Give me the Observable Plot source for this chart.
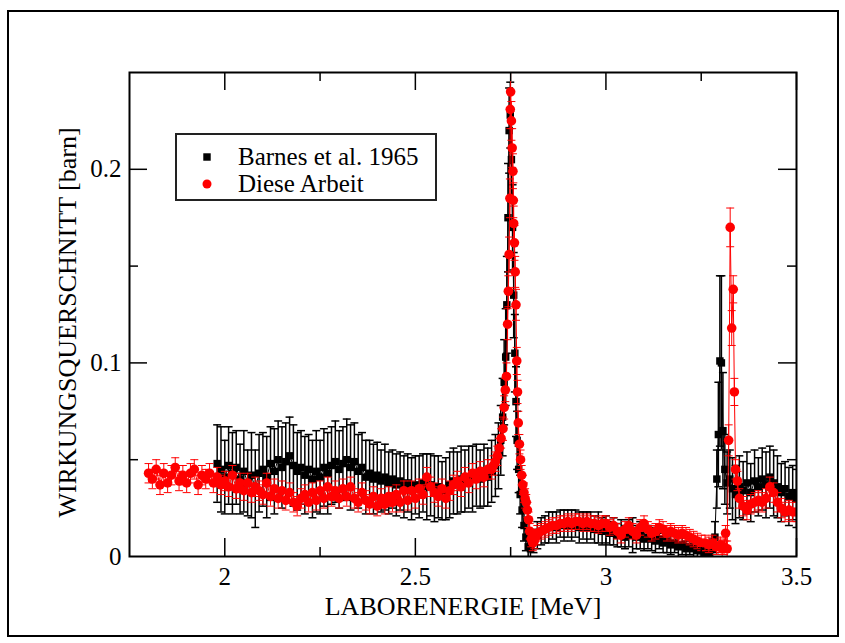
<!DOCTYPE html>
<html><head><meta charset="utf-8">
<script src="https://cdn.jsdelivr.net/npm/d3@7"></script>
<script src="https://cdn.jsdelivr.net/npm/@observablehq/plot@0.6"></script>
<style>
html,body{margin:0;padding:0;background:#fff;}
#wrap{position:relative;width:845px;height:643px;overflow:hidden;background:#fff;}
#border{position:absolute;left:7px;top:10px;width:832px;height:627px;border:2px solid #000;box-sizing:border-box;pointer-events:none;}
#legend{position:absolute;left:175px;top:133px;}
</style></head>
<body>
<div id="wrap"><div id="chart"></div><div id="border"></div><div id="legend"></div></div>
<script>
// ---- data: [energy MeV, cross section barn, error] ----
const barnes = [
[1.980,0.048,0.020],[1.990,0.045,0.022],[2.000,0.041,0.019],[2.010,0.047,0.020],[2.020,0.043,0.021],
[2.030,0.046,0.019],[2.040,0.040,0.018],[2.050,0.044,0.021],[2.060,0.038,0.017],[2.070,0.042,0.022],
[2.080,0.035,0.020],[2.090,0.043,0.020],[2.100,0.045,0.019],[2.110,0.041,0.021],[2.120,0.048,0.019],
[2.130,0.044,0.022],[2.140,0.050,0.020],[2.150,0.046,0.021],[2.160,0.049,0.020],[2.170,0.052,0.020],
[2.180,0.047,0.021],[2.190,0.044,0.020],[2.200,0.046,0.019],[2.210,0.042,0.020],[2.220,0.045,0.018],
[2.230,0.040,0.020],[2.240,0.044,0.021],[2.250,0.041,0.019],[2.260,0.046,0.020],[2.270,0.043,0.021],
[2.280,0.047,0.020],[2.290,0.049,0.021],[2.300,0.045,0.020],[2.310,0.048,0.019],[2.320,0.050,0.021],
[2.330,0.046,0.022],[2.340,0.049,0.020],[2.350,0.044,0.019],[2.360,0.046,0.018],[2.370,0.041,0.019],
[2.380,0.043,0.017],[2.390,0.040,0.018],[2.400,0.042,0.017],[2.410,0.039,0.016],[2.420,0.041,0.017],
[2.430,0.038,0.016],[2.440,0.040,0.015],[2.450,0.037,0.016],[2.460,0.039,0.015],[2.470,0.036,0.016],
[2.480,0.038,0.015],[2.490,0.035,0.016],[2.500,0.037,0.015],[2.510,0.036,0.016],[2.520,0.038,0.015],
[2.530,0.036,0.017],[2.540,0.037,0.016],[2.550,0.035,0.017],[2.560,0.036,0.016],[2.570,0.034,0.015],
[2.580,0.035,0.016],[2.590,0.037,0.017],[2.600,0.039,0.017],[2.610,0.038,0.016],[2.620,0.040,0.017],
[2.630,0.039,0.016],[2.640,0.041,0.016],[2.650,0.040,0.017],[2.660,0.042,0.016],[2.670,0.040,0.015],
[2.680,0.042,0.016],[2.690,0.041,0.015],[2.700,0.044,0.016],[2.710,0.047,0.016],[2.718,0.052,0.017],
[2.724,0.060,0.018],[2.729,0.072,0.020],[2.733,0.090,0.022],[2.737,0.103,0.025],[2.740,0.130,0.025],
[2.743,0.175,0.028],[2.746,0.220,0.022],[2.749,0.228,0.017],[2.752,0.205,0.020],[2.755,0.170,0.022],
[2.758,0.135,0.022],[2.761,0.105,0.020],[2.764,0.080,0.018],[2.767,0.060,0.015],[2.771,0.045,0.012],
[2.775,0.032,0.010],[2.780,0.024,0.009],[2.785,0.016,0.008],[2.790,0.010,0.007],[2.796,0.005,0.006],
[2.802,0.004,0.006],[2.810,0.008,0.006],[2.820,0.011,0.007],[2.830,0.013,0.007],[2.840,0.014,0.007],
[2.850,0.015,0.008],[2.860,0.016,0.007],[2.870,0.015,0.008],[2.880,0.017,0.007],[2.890,0.016,0.008],
[2.900,0.017,0.007],[2.910,0.016,0.008],[2.920,0.017,0.007],[2.930,0.015,0.008],[2.940,0.016,0.007],
[2.950,0.015,0.008],[2.960,0.016,0.007],[2.970,0.014,0.007],[2.980,0.015,0.008],[2.990,0.013,0.007],
[3.000,0.014,0.007],[3.010,0.012,0.006],[3.020,0.013,0.007],[3.030,0.011,0.006],[3.040,0.012,0.007],
[3.050,0.010,0.006],[3.060,0.012,0.007],[3.070,0.011,0.009],[3.080,0.010,0.006],[3.090,0.011,0.007],
[3.100,0.009,0.006],[3.110,0.010,0.006],[3.120,0.009,0.006],[3.130,0.008,0.006],[3.140,0.009,0.005],
[3.150,0.007,0.005],[3.160,0.008,0.006],[3.170,0.006,0.005],[3.180,0.007,0.005],[3.190,0.005,0.005],
[3.200,0.006,0.005],[3.210,0.004,0.004],[3.220,0.005,0.004],[3.230,0.004,0.004],[3.240,0.003,0.004],
[3.250,0.003,0.004],[3.260,0.002,0.004],[3.270,0.002,0.004],[3.280,0.004,0.005],[3.286,0.010,0.008],
[3.291,0.040,0.015],[3.295,0.063,0.027],[3.299,0.101,0.044],[3.303,0.100,0.045],[3.307,0.065,0.030],
[3.312,0.045,0.018],[3.318,0.038,0.016],[3.325,0.040,0.015],[3.332,0.035,0.016],[3.340,0.032,0.015],
[3.350,0.036,0.016],[3.360,0.034,0.015],[3.370,0.038,0.016],[3.380,0.033,0.015],[3.390,0.039,0.016],
[3.400,0.036,0.015],[3.410,0.040,0.016],[3.420,0.037,0.017],[3.430,0.041,0.016],[3.440,0.038,0.017],
[3.450,0.036,0.016],[3.460,0.033,0.015],[3.470,0.035,0.014],[3.480,0.031,0.015],[3.490,0.033,0.014],
[3.500,0.030,0.015]
];
const dieseArbeit = [
[1.80,0.043,0.005],[1.81,0.040,0.005],[1.82,0.045,0.005],[1.83,0.037,0.005],[1.84,0.043,0.005],
[1.85,0.038,0.005],[1.86,0.042,0.005],[1.87,0.046,0.005],[1.88,0.039,0.005],[1.89,0.042,0.005],
[1.90,0.038,0.005],[1.91,0.043,0.005],[1.92,0.045,0.005],[1.93,0.037,0.005],[1.94,0.042,0.005],
[1.95,0.040,0.005],[1.96,0.043,0.005],[1.97,0.038,0.005],[1.98,0.041,0.005],[1.99,0.037,0.005],
[2.00,0.039,0.005],[2.01,0.036,0.005],[2.02,0.042,0.005],[2.03,0.035,0.005],[2.04,0.038,0.005],
[2.05,0.034,0.005],[2.06,0.038,0.005],[2.07,0.033,0.005],[2.08,0.036,0.005],[2.09,0.034,0.005],
[2.10,0.032,0.005],[2.11,0.038,0.005],[2.12,0.031,0.005],[2.13,0.035,0.005],[2.14,0.030,0.005],
[2.15,0.034,0.005],[2.16,0.029,0.005],[2.17,0.033,0.005],[2.18,0.028,0.005],[2.19,0.026,0.005],
[2.20,0.030,0.005],[2.21,0.032,0.005],[2.22,0.028,0.005],[2.23,0.033,0.005],[2.24,0.029,0.005],
[2.25,0.034,0.005],[2.26,0.030,0.005],[2.27,0.036,0.005],[2.28,0.031,0.005],[2.29,0.034,0.005],
[2.30,0.030,0.005],[2.31,0.035,0.005],[2.32,0.031,0.005],[2.33,0.036,0.005],[2.34,0.030,0.005],
[2.35,0.028,0.005],[2.36,0.033,0.005],[2.37,0.029,0.005],[2.38,0.027,0.005],[2.39,0.031,0.005],
[2.40,0.026,0.005],[2.41,0.030,0.005],[2.42,0.027,0.005],[2.43,0.031,0.005],[2.44,0.028,0.005],
[2.45,0.032,0.005],[2.46,0.028,0.005],[2.47,0.034,0.005],[2.48,0.029,0.005],[2.49,0.034,0.005],
[2.50,0.030,0.005],[2.51,0.035,0.005],[2.52,0.032,0.005],[2.53,0.041,0.005],[2.54,0.036,0.005],
[2.55,0.033,0.005],[2.56,0.031,0.005],[2.57,0.035,0.005],[2.58,0.030,0.005],[2.59,0.034,0.005],
[2.60,0.037,0.005],[2.61,0.039,0.005],[2.62,0.036,0.005],[2.63,0.041,0.005],[2.64,0.038,0.005],
[2.65,0.043,0.005],[2.66,0.040,0.005],[2.67,0.044,0.005],[2.68,0.041,0.005],[2.69,0.045,0.005],
[2.700,0.045,0.005],[2.705,0.047,0.005],[2.710,0.049,0.005],[2.715,0.052,0.005],[2.720,0.056,0.005],
[2.725,0.061,0.005],[2.730,0.066,0.006],[2.733,0.077,0.006],[2.736,0.086,0.006],[2.739,0.093,0.007],
[2.742,0.120,0.008],[2.744,0.137,0.008],[2.746,0.156,0.009],[2.748,0.185,0.010],[2.749,0.231,0.010],
[2.750,0.240,0.010],[2.752,0.225,0.010],[2.754,0.211,0.010],[2.756,0.199,0.009],[2.757,0.184,0.009],
[2.758,0.172,0.009],[2.760,0.162,0.009],[2.762,0.147,0.008],[2.764,0.130,0.008],[2.766,0.101,0.007],
[2.768,0.085,0.006],[2.770,0.069,0.006],[2.773,0.058,0.005],[2.776,0.050,0.005],[2.779,0.042,0.005],
[2.782,0.037,0.005],[2.785,0.033,0.005],[2.788,0.030,0.005],[2.791,0.028,0.004],[2.794,0.024,0.004],
[2.797,0.019,0.004],[2.800,0.013,0.004],[2.804,0.009,0.004],[2.808,0.007,0.004],[2.812,0.008,0.004],
[2.816,0.010,0.004],[2.82,0.012,0.004],[2.83,0.013,0.004],[2.84,0.014,0.004],[2.85,0.015,0.004],
[2.86,0.016,0.004],[2.87,0.016,0.004],[2.88,0.017,0.004],[2.89,0.017,0.004],[2.90,0.018,0.004],
[2.91,0.017,0.004],[2.92,0.018,0.004],[2.93,0.018,0.004],[2.94,0.017,0.004],[2.95,0.018,0.004],
[2.96,0.017,0.004],[2.97,0.017,0.004],[2.98,0.016,0.004],[2.99,0.017,0.004],[3.00,0.017,0.004],
[3.01,0.015,0.004],[3.02,0.016,0.004],[3.03,0.013,0.004],[3.04,0.011,0.004],[3.05,0.014,0.004],
[3.06,0.016,0.004],[3.07,0.013,0.004],[3.08,0.011,0.004],[3.09,0.015,0.004],[3.10,0.017,0.004],
[3.11,0.014,0.004],[3.12,0.012,0.004],[3.13,0.013,0.004],[3.14,0.015,0.004],[3.15,0.014,0.004],
[3.16,0.012,0.004],[3.17,0.013,0.004],[3.18,0.012,0.004],[3.19,0.011,0.004],[3.20,0.012,0.004],
[3.21,0.011,0.004],[3.22,0.010,0.004],[3.23,0.009,0.004],[3.24,0.008,0.004],[3.25,0.007,0.004],
[3.26,0.007,0.004],[3.27,0.006,0.004],[3.28,0.007,0.004],[3.29,0.005,0.004],[3.30,0.006,0.004],
[3.305,0.004,0.004],[3.310,0.005,0.004],[3.314,0.012,0.004],[3.318,0.004,0.004],[3.322,0.060,0.008],
[3.326,0.170,0.010],[3.330,0.118,0.009],[3.334,0.138,0.007],[3.337,0.085,0.007],[3.340,0.045,0.005],
[3.345,0.039,0.005],[3.350,0.030,0.005],[3.36,0.026,0.005],[3.37,0.024,0.005],[3.38,0.027,0.005],
[3.39,0.028,0.005],[3.40,0.029,0.005],[3.41,0.028,0.005],[3.42,0.030,0.005],[3.43,0.036,0.005],
[3.44,0.033,0.005],[3.45,0.028,0.005],[3.46,0.025,0.005],[3.47,0.023,0.005],[3.48,0.024,0.005],
[3.49,0.023,0.005],[3.50,0.023,0.005]
];
const xTicks = [2, 2.5, 3, 3.5];
const xMinorTicks = [2.25, 2.75, 3.25];
const yTicks = [0, 0.1, 0.2];
const yMajorInner = [0.1, 0.2];
const yMinorTicks = [0.05, 0.15];
const xLabel = "LABORENERGIE [MeV]";
const yLabel = "WIRKUNGSQUERSCHNITT [barn]";
const seriesNames = ["Barnes et al. 1965", "Diese Arbeit"];
const seriesColors = ["#000000", "#ff0000"];

// ---- layout ----
const W = 845, H = 643;
const mL = 129, mR = 49, mT = 72, mB = 87;
const pw = W - mL - mR, ph = H - mT - mB;
const major = 18, minor = 9;
const font = "'Liberation Serif','Times New Roman',serif";

const capSymbol = {draw(ctx, size){ const w = Math.sqrt(size/Math.PI); ctx.moveTo(-w,0); ctx.lineTo(w,0); }};

function seriesMarks(data, color, shape, r, sw){
  return [
    Plot.line(data, {x: d=>d[0], y: d=>d[1], stroke: color, strokeWidth: 1, clip: true}),
    Plot.ruleX(data, {x: d=>d[0], y1: d=>d[1]-d[2], y2: d=>d[1]+d[2], stroke: color, strokeWidth: sw, clip: true}),
    Plot.dot(data, {x: d=>d[0], y: d=>d[1]+d[2], symbol: capSymbol, r: 4, stroke: color, strokeWidth: sw, clip: true}),
    Plot.dot(data, {x: d=>d[0], y: d=>d[1]-d[2], symbol: capSymbol, r: 4, stroke: color, strokeWidth: sw, clip: true}),
    Plot.dot(data, {x: d=>d[0], y: d=>d[1], symbol: shape, r: r, fill: color, stroke: "none", clip: true})
  ];
}

const chart = Plot.plot({
  width: W, height: H,
  marginLeft: mL, marginRight: mR, marginTop: mT, marginBottom: mB,
  style: {fontFamily: font, fontSize: "25px", background: "white", color: "black"},
  x: {domain: [1.75, 3.5], axis: null},
  y: {domain: [0, 0.25], axis: null},
  marks: [
    ...seriesMarks(barnes, seriesColors[0], "square", 4.2, 1.5),
    ...seriesMarks(dieseArbeit, seriesColors[1], "circle", 4.8, 1),
    Plot.tickX(xTicks, {x: d=>d, insetTop: ph - major, stroke: "black", strokeWidth: 1.5}),
    Plot.tickX(xMinorTicks, {x: d=>d, insetTop: ph - minor, stroke: "black", strokeWidth: 1.5}),
    Plot.tickX(xTicks, {x: d=>d, insetBottom: ph - major, stroke: "black", strokeWidth: 1.5}),
    Plot.tickX(xMinorTicks, {x: d=>d, insetBottom: ph - minor, stroke: "black", strokeWidth: 1.5}),
    Plot.tickY(yMajorInner, {y: d=>d, insetRight: pw - major, stroke: "black", strokeWidth: 1.5}),
    Plot.tickY(yMinorTicks, {y: d=>d, insetRight: pw - minor, stroke: "black", strokeWidth: 1.5}),
    Plot.tickY(yMajorInner, {y: d=>d, insetLeft: pw - major, stroke: "black", strokeWidth: 1.5}),
    Plot.tickY(yMinorTicks, {y: d=>d, insetLeft: pw - minor, stroke: "black", strokeWidth: 1.5}),
    Plot.frame({stroke: "black", strokeWidth: 2}),
    Plot.text(xTicks, {x: d=>d, frameAnchor: "bottom", dy: 11, lineAnchor: "top", textAnchor: "middle", text: d=>String(d), fontSize: 25, fontFamily: font, fill: "black"}),
    Plot.text(yTicks, {y: d=>d, frameAnchor: "left", dx: -8, lineAnchor: "middle", textAnchor: "end", text: d=>String(d), fontSize: 25, fontFamily: font, fill: "black"}),
    Plot.text([xLabel], {frameAnchor: "bottom", dy: 58, text: d=>d, lineAnchor: "bottom", textAnchor: "middle", fontSize: 26, fontFamily: font, fill: "black"}),
    Plot.text([yLabel], {frameAnchor: "left", dx: -54, dy: 8, rotate: -90, text: d=>d, lineAnchor: "bottom", textAnchor: "middle", fontSize: 26, fontFamily: font, fill: "black"})
  ]
});
document.getElementById("chart").appendChild(chart);

// ---- legend ----
const lg = d3.select("#legend").append("svg").attr("width", 263).attr("height", 69)
  .style("font-family", font).style("font-size", "25px");
lg.append("rect").attr("x", 1).attr("y", 1).attr("width", 260).attr("height", 66)
  .attr("fill", "white").attr("stroke", "#222").attr("stroke-width", 2);
const rows = [{y: 24, baseline: 32}, {y: 51, baseline: 59}];
seriesNames.forEach((name, i) => {
  const sym = d3.symbol(i === 0 ? d3.symbolSquare : d3.symbolCircle, i === 0 ? 4.2*4.2*Math.PI : 4.5*4.5*Math.PI);
  lg.append("path").attr("d", sym()).attr("transform", `translate(32,${rows[i].y})`).attr("fill", seriesColors[i]);
  lg.append("text").attr("x", 63).attr("y", rows[i].baseline).text(name);
});
</script>
</body></html>
